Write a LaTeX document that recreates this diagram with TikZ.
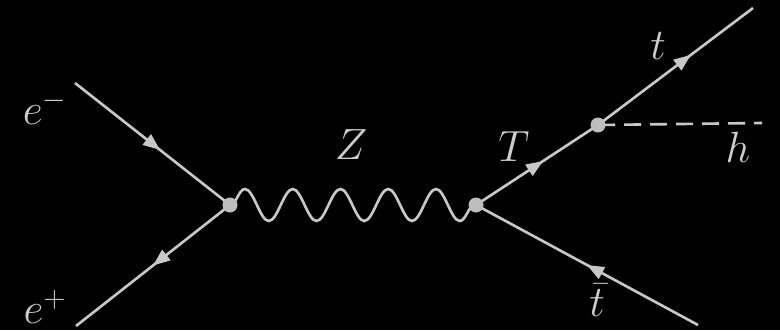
\documentclass[tikz,border=0pt]{standalone}
\usepackage{amsmath,amssymb}
\usetikzlibrary{calc,decorations.pathmorphing,decorations.markings,arrows.meta}
\definecolor{lineg}{RGB}{200,200,200}
\definecolor{dotg}{RGB}{190,190,190}
\definecolor{textg}{RGB}{205,205,205}

\begin{document}
\begin{tikzpicture}[
    fermion/.style={color=lineg, line width=1.5pt, postaction={decorate},
        decoration={markings, mark=at position #1 with {\arrow{Triangle[length=0.34cm,width=0.26cm]}}}},
    fermion/.default=0.55,
    boson/.style={color=lineg, line width=1.5pt, decorate,
        decoration={snake, segment length=0.955cm, amplitude=0.32cm}},
    scalar/.style={color=lineg, line width=1.5pt, dash pattern=on 0.34cm off 0.18cm},
    vert/.style={circle, fill=dotg, inner sep=0pt, minimum size=0.3cm},
    lbl/.style={text=textg, font=\fontsize{26}{30}\selectfont}
]
    % фон
    \fill[black] (0,0) rectangle (15.6,6.6);
    \useasboundingbox (0,0) rectangle (15.6,6.6);

    % точки
    \coordinate (em) at (1.5,4.94);
    \coordinate (ep) at (1.52,0.08);
    \coordinate (zl) at (4.6,2.5);
    \coordinate (zr) at (9.52,2.5);
    \coordinate (th) at (11.96,4.1);
    \coordinate (tt) at (15.06,6.44);
    \coordinate (tb) at (13.96,0.1);
    \coordinate (hh) at (15.24,4.14);

    % лінії
    \draw[fermion] (em) -- (zl);
    \draw[fermion=0.5] (zl) -- (ep);
    \draw[boson] (zl) -- (zr);
    \draw[fermion] (zr) -- (th);
    \draw[fermion=0.6] (th) -- (tt);
    \draw[fermion=0.5] (tb) -- (zr);
    \draw[scalar] (th) -- (hh);

    % вершини
    \node[vert] (v1) at (zl) {};
    \node[vert] (v2) at (zr) {};
    \node[vert] (v3) at (th) {};

    % підписи
    \node[lbl] (lem) at (0.9,4.44) {$e^-$};
    \node[lbl] (lep) at (0.9,0.46) {$e^+$};
    \node[lbl] (lz) at (7.02,3.7) {$Z$};
    \node[lbl] (lT) at (10.28,3.66) {$T$};
    \node[lbl] (lt) at (13.16,5.68) {$t$};
    \node[lbl] (lh) at (14.76,3.66) {$h$};
    \node[lbl] (ltb) at (11.94,0.6) {$\bar{t}$};
\end{tikzpicture}
\end{document}
